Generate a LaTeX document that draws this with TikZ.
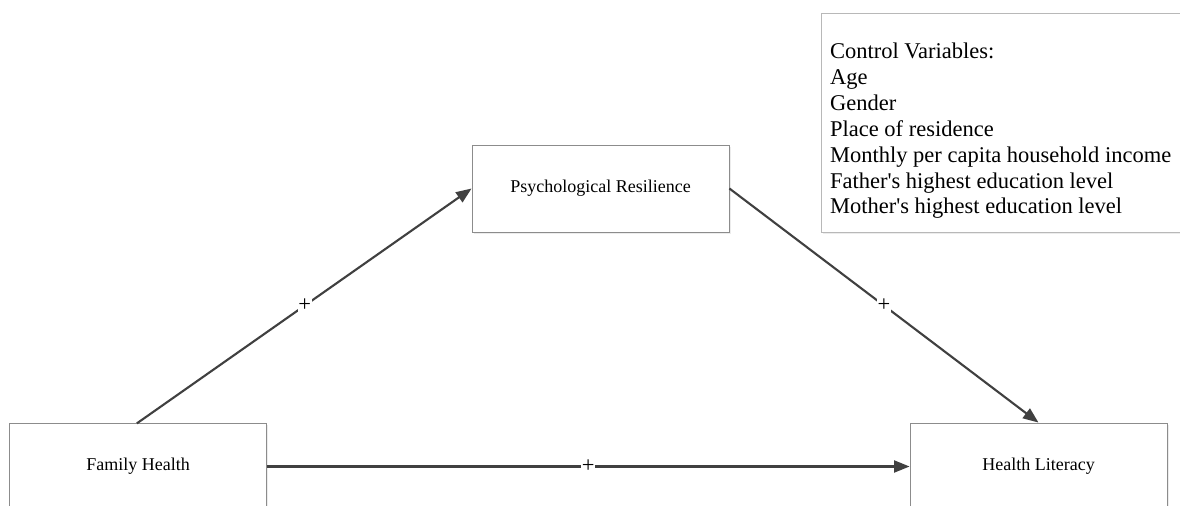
\documentclass[tikz,border=0pt]{standalone}
\usepackage{fontspec}
\setmainfont{Liberation Serif}
\usetikzlibrary{arrows.meta, positioning, shadows}

\begin{document}
\begin{tikzpicture}[x=0.025cm, y=-0.025cm, -{Triangle[length=11pt,width=8.5pt]},
                    line width=1.5pt, draw=black!75,
                    box/.style={draw=black!45, line width=0.6pt, fill=white,
                      minimum width=257*0.025cm, minimum height=87*0.025cm,
                      font=\rmfamily\fontsize{12.8}{15}\selectfont,
                      drop shadow={opacity=0.15, shadow xshift=1.2pt, shadow yshift=-1.2pt}},
                    ctrl/.style={inner sep=0pt, align=left, anchor=north west,
                      font=\rmfamily\fontsize{16}{18.4}\selectfont},
                    sign/.style={fill=white, inner sep=0.6pt, font=\rmfamily\fontsize{16}{16}\selectfont}]

  \useasboundingbox (0,0) rectangle (1180,506);
  \clip (0,0) rectangle (1180,506);

  \node[box] at (600.5,188.5)   (PR)  {Psychological Resilience};
  \node[box] at (138,466.5)     (FH)  {Family Health};
  \node[box] at (1038.5,466.5)  (HL)  {Health Literacy};

  % control variables
  \node[box, draw=black!28, minimum width=370*0.025cm, minimum height=219*0.025cm,
        anchor=north west] at (821,13) (CV) {};
  \node[ctrl] at (829,42) (CVtext)
        {Control Variables:\\Age\\Gender\\Place of residence\\Monthly per capita household income\\Father\textquotesingle s highest education level\\Mother\textquotesingle s highest education level};

  \path (FH.north) edge[shorten <=-1pt] node[sign] {+} (PR.west)
        (PR.east)  edge node[sign] {+} (HL.north)
        (FH.east)  edge node[sign] {+} (HL.west);

\end{tikzpicture}
\end{document}
